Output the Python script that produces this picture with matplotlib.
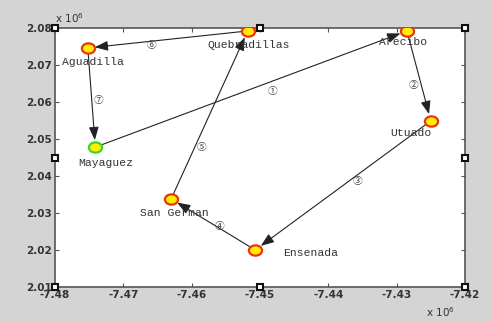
import matplotlib
matplotlib.use("Agg")
import matplotlib.pyplot as plt
from matplotlib.path import Path
from matplotlib.markers import MarkerStyle
from matplotlib.transforms import Affine2D

# town coordinates (x 10^6)
towns = ["Aguadilla", "Quebradillas", "Arecibo", "Utuado", "Ensenada", "San German", "Mayaguez"]
xs = [-7.4752, -7.4518, -7.4285, -7.4250, -7.4507, -7.4630, -7.4741]
ys = [2.0746, 2.0792, 2.0792, 2.0549, 2.0200, 2.0338, 2.0478]

# tour order, starts and ends at Mayaguez
route = ["Mayaguez", "Arecibo", "Utuado", "Ensenada", "San German", "Quebradillas", "Aguadilla", "Mayaguez"]
step_marks = ["①", "②", "③", "④", "⑤", "⑥", "⑦"]
# where each step number sits along its leg (0 = start, 1 = end)
step_pos = [0.57, 0.6, 0.42, 0.43, 0.31, 0.6, 0.52]
# nudge of each step number away from its leg, in pixels (right, down)
step_off = [(0, 10), (-8, 0), (0, 6), (0, -2), (7, 0), (0, 4), (7, 0)]

# label offsets in pixels (right, down)
label_off = {
    "Aguadilla": (-26, 14, "left"),
    "Quebradillas": (1, 14, "center"),
    "Arecibo": (-4, 11, "center"),
    "Utuado": (-20, 12, "center"),
    "Ensenada": (28, 3, "left"),
    "San German": (3, 14, "center"),
    "Mayaguez": (-17, 16, "left"),
}

W, H, DPI = 491, 322, 100
PX = 72 / DPI
fig = plt.figure(figsize=(W / DPI, H / DPI), dpi=DPI, facecolor="#d4d4d4")
ax = fig.add_axes([55 / W, 1 - 287 / H, 410 / W, 259 / H])
ax.set_facecolor("white")
ax.set_xlim(-7.48, -7.42)
ax.set_ylim(2.01, 2.08)
ax.set_xticks([-7.48, -7.47, -7.46, -7.45, -7.44, -7.43, -7.42])
ax.set_xticklabels(["-7.48", "-7.47", "-7.46", "-7.45", "-7.44", "-7.43", "-7.42"])
ax.set_yticks([2.01, 2.02, 2.03, 2.04, 2.05, 2.06, 2.07, 2.08])
ax.set_yticklabels(["2.01", "2.02", "2.03", "2.04", "2.05", "2.06", "2.07", "2.08"])
ax.tick_params(direction="in", top=True, right=True, length=3, width=0.8, color="#555555",
               labelsize=7.5, labelcolor="#333333", pad=2)
for lab in ax.get_xticklabels() + ax.get_yticklabels():
    lab.set_fontweight("bold")
    lab.set_family("DejaVu Sans")
for s in ax.spines.values():
    s.set_color("#555555")
    s.set_linewidth(1.2)

pos = {t: (x, y) for t, x, y in zip(towns, xs, ys)}

# arrows for each leg
for i in range(len(route) - 1):
    x0, y0 = pos[route[i]]
    x1, y1 = pos[route[i + 1]]
    ax.annotate("", xy=(x1, y1), xytext=(x0, y0),
                arrowprops=dict(arrowstyle="-|>,head_length=0.8,head_width=0.3",
                                color="#222222", lw=0.8, shrinkA=4, shrinkB=5))
    f = step_pos[i]
    dx, dy = step_off[i]
    ax.annotate(step_marks[i], (x0 + (x1 - x0) * f, y0 + (y1 - y0) * f),
                xytext=(dx * PX, -dy * PX), textcoords="offset points",
                fontsize=7, color="#444444", ha="center", va="center",
                family=["Noto Sans CJK SC", "DejaVu Sans"])

# slightly flattened round marker
oval = MarkerStyle(Path.unit_circle(), transform=Affine2D().scale(1.0, 0.78))
for t, x, y in zip(towns, xs, ys):
    edge = "#33dd22" if t == "Mayaguez" else "#ee3311"
    ax.plot(x, y, marker=oval, markersize=9.5, markerfacecolor="#ffee00",
            markeredgecolor=edge, markeredgewidth=1.6, linestyle="none", zorder=5)
    dx, dy, ha = label_off[t]
    ax.annotate(t, (x, y), xytext=(dx * PX, -dy * PX), textcoords="offset points",
                ha=ha, va="center", fontsize=8.2, family="Liberation Mono", color="#333333")

# exponent labels
fig.text(55 / W, 1 - 18 / H, "x 10$^6$", fontsize=7.5, color="#333333", ha="left", va="center")
fig.text(440 / W, 1 - 312 / H, "x 10$^6$", fontsize=7.5, color="#333333", ha="center", va="center")

# selection handles on the frame
hx = [0, 0.5, 1, 0, 1, 0, 0.5, 1]
hy = [1, 1, 1, 0.5, 0.5, 0, 0, 0]
ax.plot(hx, hy, marker="s", markersize=4.5, markerfacecolor="white", markeredgecolor="#111111",
        markeredgewidth=1.5, linestyle="none", transform=ax.transAxes, clip_on=False, zorder=10)

fig.savefig("out.png", dpi=DPI, facecolor=fig.get_facecolor())
